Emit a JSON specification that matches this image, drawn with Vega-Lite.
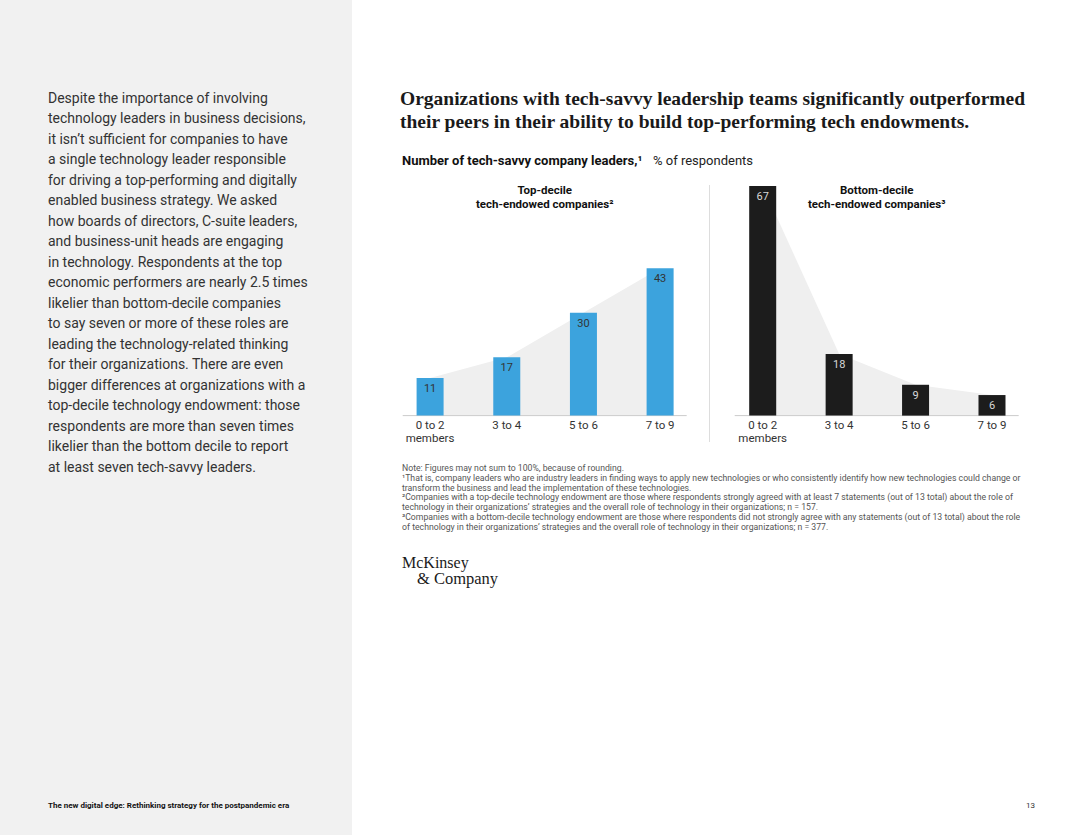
{
  "$schema": "https://vega.github.io/schema/vega-lite/v6.json",
  "width": 1080,
  "height": 835,
  "autosize": {"type": "fit", "contains": "padding"},
  "padding": 0,
  "background": "white",
  "config": {"view": {"stroke": null}, "font": "Roboto"},
  "data": {"values": [
    {"kind": "panel", "t": ""},
    {"kind": "para", "line": 0, "t": "Despite the importance of involving"},
    {"kind": "para", "line": 1, "t": "technology leaders in business decisions,"},
    {"kind": "para", "line": 2, "t": "it isn’t sufficient for companies to have"},
    {"kind": "para", "line": 3, "t": "a single technology leader responsible"},
    {"kind": "para", "line": 4, "t": "for driving a top-performing and digitally"},
    {"kind": "para", "line": 5, "t": "enabled business strategy. We asked"},
    {"kind": "para", "line": 6, "t": "how boards of directors, C-suite leaders,"},
    {"kind": "para", "line": 7, "t": "and business-unit heads are engaging"},
    {"kind": "para", "line": 8, "t": "in technology. Respondents at the top"},
    {"kind": "para", "line": 9, "t": "economic performers are nearly 2.5 times"},
    {"kind": "para", "line": 10, "t": "likelier than bottom-decile companies"},
    {"kind": "para", "line": 11, "t": "to say seven or more of these roles are"},
    {"kind": "para", "line": 12, "t": "leading the technology-related thinking"},
    {"kind": "para", "line": 13, "t": "for their organizations. There are even"},
    {"kind": "para", "line": 14, "t": "bigger differences at organizations with a"},
    {"kind": "para", "line": 15, "t": "top-decile technology endowment: those"},
    {"kind": "para", "line": 16, "t": "respondents are more than seven times"},
    {"kind": "para", "line": 17, "t": "likelier than the bottom decile to report"},
    {"kind": "para", "line": 18, "t": "at least seven tech-savvy leaders."},
    {"kind": "footer", "t": "The new digital edge: Rethinking strategy for the postpandemic era"},
    {"kind": "title", "line": 0, "t": "Organizations with tech-savvy leadership teams significantly outperformed"},
    {"kind": "title", "line": 1, "t": "their peers in their ability to build top-performing tech endowments."},
    {"kind": "sub1", "t": "Number of tech-savvy company leaders,¹"},
    {"kind": "sub2", "t": "% of respondents"},
    {"kind": "ct1", "line": 0, "t": "Top-decile"},
    {"kind": "ct1", "line": 1, "t": "tech-endowed companies²"},
    {"kind": "ct2", "line": 0, "t": "Bottom-decile"},
    {"kind": "ct2", "line": 1, "t": "tech-endowed companies³"},
    {"kind": "sep", "t": ""},
    {"kind": "base1", "t": ""},
    {"kind": "base2", "t": ""},
    {"kind": "top", "cat": "0 to 2", "value": 11},
    {"kind": "top", "cat": "3 to 4", "value": 17},
    {"kind": "top", "cat": "5 to 6", "value": 30},
    {"kind": "top", "cat": "7 to 9", "value": 43},
    {"kind": "bottom", "cat": "0 to 2", "value": 67},
    {"kind": "bottom", "cat": "3 to 4", "value": 18},
    {"kind": "bottom", "cat": "5 to 6", "value": 9},
    {"kind": "bottom", "cat": "7 to 9", "value": 6},
    {"kind": "mem1", "t": "members"},
    {"kind": "mem2", "t": "members"},
    {"kind": "notes", "line": 0, "t": "Note: Figures may not sum to 100%, because of rounding."},
    {"kind": "notes", "line": 1, "t": "¹That is, company leaders who are industry leaders in finding ways to apply new technologies or who consistently identify how new technologies could change or"},
    {"kind": "notes", "line": 2, "t": " transform the business and lead the implementation of these technologies."},
    {"kind": "notes", "line": 3, "t": "²Companies with a top-decile technology endowment are those where respondents strongly agreed with at least 7 statements (out of 13 total) about the role of"},
    {"kind": "notes", "line": 4, "t": " technology in their organizations’ strategies and the overall role of technology in their organizations; n = 157."},
    {"kind": "notes", "line": 5, "t": "³Companies with a bottom-decile technology endowment are those where respondents did not strongly agree with any statements (out of 13 total) about the role"},
    {"kind": "notes", "line": 6, "t": " of technology in their organizations’ strategies and the overall role of technology in their organizations; n = 377."},
    {"kind": "logo1", "t": "McKinsey"},
    {"kind": "logo2", "t": "& Company"},
    {"kind": "page", "t": "13"}
  ]},
  "resolve": {"scale": {"x": "independent", "y": "independent"}},
  "layer": [
    {
      "transform": [{"filter": "datum.kind === 'panel'"}],
      "mark": {"type": "rect", "color": "#f1f1f1"},
      "encoding": {"x": {"value": 0}, "x2": {"value": 352}, "y": {"value": 0}, "y2": {"value": 835}}
    },
    {
      "transform": [{"filter": "datum.kind === 'para'"}],
      "mark": {"type": "text", "align": "left", "baseline": "middle", "fontSize": 14, "color": "#333333"},
      "encoding": {
        "x": {"value": 48},
        "y": {"field": "line", "type": "quantitative", "scale": {"domain": [-4.833, 35.933], "reverse": true, "nice": false, "zero": false}, "axis": null},
        "text": {"field": "t", "type": "nominal"}
      }
    },
    {
      "transform": [{"filter": "datum.kind === 'footer'"}],
      "mark": {"type": "text", "align": "left", "baseline": "middle", "fontSize": 8, "fontWeight": "bold", "color": "#111111"},
      "encoding": {"x": {"value": 48}, "y": {"value": 806}, "text": {"field": "t", "type": "nominal"}}
    },
    {
      "transform": [{"filter": "datum.kind === 'title'"}],
      "mark": {"type": "text", "align": "left", "baseline": "middle", "font": "Liberation Serif", "fontWeight": "bold", "fontSize": 19.5, "color": "#1a1a1a"},
      "encoding": {
        "x": {"value": 400},
        "y": {"field": "line", "type": "quantitative", "scale": {"domain": [-4.304, 32.0], "reverse": true, "nice": false, "zero": false}, "axis": null},
        "text": {"field": "t", "type": "nominal"}
      }
    },
    {
      "transform": [{"filter": "datum.kind === 'sub1'"}],
      "mark": {"type": "text", "align": "left", "baseline": "middle", "fontWeight": "bold", "fontSize": 13, "color": "#111111"},
      "encoding": {"x": {"value": 402}, "y": {"value": 161}, "text": {"field": "t", "type": "nominal"}}
    },
    {
      "transform": [{"filter": "datum.kind === 'sub2'"}],
      "mark": {"type": "text", "align": "left", "baseline": "middle", "fontSize": 13, "color": "#222222"},
      "encoding": {"x": {"value": 653}, "y": {"value": 161}, "text": {"field": "t", "type": "nominal"}}
    },
    {
      "transform": [{"filter": "datum.kind === 'ct1'"}],
      "mark": {"type": "text", "align": "center", "baseline": "middle", "fontWeight": "bold", "fontSize": 11.5, "color": "#111111"},
      "encoding": {
        "x": {"value": 544.7},
        "y": {"field": "line", "type": "quantitative", "scale": {"domain": [-13.643, 46.0], "reverse": true, "nice": false, "zero": false}, "axis": null},
        "text": {"field": "t", "type": "nominal"}
      }
    },
    {
      "transform": [{"filter": "datum.kind === 'ct2'"}],
      "mark": {"type": "text", "align": "center", "baseline": "middle", "fontWeight": "bold", "fontSize": 11.5, "color": "#111111"},
      "encoding": {
        "x": {"value": 876.7},
        "y": {"field": "line", "type": "quantitative", "scale": {"domain": [-13.643, 46.0], "reverse": true, "nice": false, "zero": false}, "axis": null},
        "text": {"field": "t", "type": "nominal"}
      }
    },
    {
      "transform": [{"filter": "datum.kind === 'sep'"}],
      "mark": {"type": "rule", "color": "#dddddd", "strokeWidth": 1},
      "encoding": {"x": {"value": 709.5}, "y": {"value": 185}, "y2": {"value": 442}}
    },
    {
      "transform": [{"filter": "datum.kind === 'top'"}],
      "mark": {"type": "area", "color": "#efefef"},
      "encoding": {
        "x": {"field": "cat", "type": "nominal", "scale": {"type": "band", "domain": ["p1", "p2", "p3", "p4", "p5", "0 to 2", "3 to 4", "5 to 6", "7 to 9", "p6", "p7", "p8", "p9", "p10"], "paddingInner": 0.6478, "paddingOuter": 0.367, "align": 0.5907}, "axis": null},
        "y": {"field": "value", "type": "quantitative", "scale": {"domain": [-122.38, 121.28], "nice": false, "zero": true}, "axis": null}
      }
    },
    {
      "transform": [{"filter": "datum.kind === 'bottom'"}],
      "mark": {"type": "area", "color": "#efefef"},
      "encoding": {
        "x": {"field": "cat", "type": "nominal", "scale": {"type": "band", "domain": ["q1", "q2", "q3", "q4", "q5", "q6", "q7", "q8", "q9", "0 to 2", "3 to 4", "5 to 6", "7 to 9"], "paddingInner": 0.6467, "paddingOuter": 0.8886, "align": 0.4515}, "axis": null},
        "y": {"field": "value", "type": "quantitative", "scale": {"domain": [-122.38, 121.28], "nice": false, "zero": true}, "axis": null}
      }
    },
    {
      "transform": [{"filter": "datum.kind === 'base1'"}],
      "mark": {"type": "rule", "color": "#cccccc", "strokeWidth": 1},
      "encoding": {"x": {"value": 402.7}, "x2": {"value": 686.7}, "y": {"value": 415.6}}
    },
    {
      "transform": [{"filter": "datum.kind === 'base2'"}],
      "mark": {"type": "rule", "color": "#cccccc", "strokeWidth": 1},
      "encoding": {"x": {"value": 734.7}, "x2": {"value": 1018.7}, "y": {"value": 415.6}}
    },
    {
      "transform": [{"filter": "datum.kind === 'top'"}],
      "mark": {"type": "bar", "color": "#3ca3dd"},
      "encoding": {
        "x": {"field": "cat", "type": "nominal",
          "scale": {"type": "band", "domain": ["p1", "p2", "p3", "p4", "p5", "0 to 2", "3 to 4", "5 to 6", "7 to 9", "p6", "p7", "p8", "p9", "p10"], "paddingInner": 0.6478, "paddingOuter": 0.367, "align": 0.5907},
          "axis": {"title": null, "orient": "bottom", "offset": -419.4, "values": ["0 to 2", "3 to 4", "5 to 6", "7 to 9"], "domain": false, "ticks": false, "grid": false, "labelPadding": 4, "labelFontSize": 11.5, "labelColor": "#333333", "labelAngle": 0}},
        "y": {"field": "value", "type": "quantitative", "scale": {"domain": [-122.38, 121.28], "nice": false, "zero": true}, "axis": null}
      }
    },
    {
      "transform": [{"filter": "datum.kind === 'bottom'"}],
      "mark": {"type": "bar", "color": "#1c1c1c"},
      "encoding": {
        "x": {"field": "cat", "type": "nominal",
          "scale": {"type": "band", "domain": ["q1", "q2", "q3", "q4", "q5", "q6", "q7", "q8", "q9", "0 to 2", "3 to 4", "5 to 6", "7 to 9"], "paddingInner": 0.6467, "paddingOuter": 0.8886, "align": 0.4515},
          "axis": {"title": null, "orient": "bottom", "offset": -419.4, "values": ["0 to 2", "3 to 4", "5 to 6", "7 to 9"], "domain": false, "ticks": false, "grid": false, "labelPadding": 4, "labelFontSize": 11.5, "labelColor": "#333333", "labelAngle": 0}},
        "y": {"field": "value", "type": "quantitative", "scale": {"domain": [-122.38, 121.28], "nice": false, "zero": true}, "axis": null}
      }
    },
    {
      "transform": [{"filter": "datum.kind === 'top'"}],
      "mark": {"type": "text", "dy": 11, "fontSize": 11, "color": "#333333", "baseline": "middle"},
      "encoding": {
        "x": {"field": "cat", "type": "nominal", "scale": {"type": "band", "domain": ["p1", "p2", "p3", "p4", "p5", "0 to 2", "3 to 4", "5 to 6", "7 to 9", "p6", "p7", "p8", "p9", "p10"], "paddingInner": 0.6478, "paddingOuter": 0.367, "align": 0.5907}, "axis": null},
        "y": {"field": "value", "type": "quantitative", "scale": {"domain": [-122.38, 121.28], "nice": false, "zero": true}, "axis": null},
        "text": {"field": "value", "type": "quantitative"}
      }
    },
    {
      "transform": [{"filter": "datum.kind === 'bottom'"}],
      "mark": {"type": "text", "dy": 11, "fontSize": 11, "color": "#d8d8d8", "baseline": "middle"},
      "encoding": {
        "x": {"field": "cat", "type": "nominal", "scale": {"type": "band", "domain": ["q1", "q2", "q3", "q4", "q5", "q6", "q7", "q8", "q9", "0 to 2", "3 to 4", "5 to 6", "7 to 9"], "paddingInner": 0.6467, "paddingOuter": 0.8886, "align": 0.4515}, "axis": null},
        "y": {"field": "value", "type": "quantitative", "scale": {"domain": [-122.38, 121.28], "nice": false, "zero": true}, "axis": null},
        "text": {"field": "value", "type": "quantitative"}
      }
    },
    {
      "transform": [{"filter": "datum.kind === 'mem1'"}],
      "mark": {"type": "text", "align": "center", "baseline": "middle", "fontSize": 11.5, "color": "#333333"},
      "encoding": {"x": {"value": 430}, "y": {"value": 439}, "text": {"field": "t", "type": "nominal"}}
    },
    {
      "transform": [{"filter": "datum.kind === 'mem2'"}],
      "mark": {"type": "text", "align": "center", "baseline": "middle", "fontSize": 11.5, "color": "#333333"},
      "encoding": {"x": {"value": 762.7}, "y": {"value": 439}, "text": {"field": "t", "type": "nominal"}}
    },
    {
      "transform": [{"filter": "datum.kind === 'notes'"}],
      "mark": {"type": "text", "align": "left", "baseline": "middle", "fontSize": 8.7, "color": "#555555"},
      "encoding": {
        "x": {"value": 402},
        "y": {"field": "line", "type": "quantitative", "scale": {"domain": [-47.085, 36.978], "reverse": true, "nice": false, "zero": false}, "axis": null},
        "text": {"field": "t", "type": "nominal"}
      }
    },
    {
      "transform": [{"filter": "datum.kind === 'logo1'"}],
      "mark": {"type": "text", "align": "left", "baseline": "middle", "font": "Liberation Serif", "fontSize": 16, "color": "#1a1a1a"},
      "encoding": {"x": {"value": 402}, "y": {"value": 563}, "text": {"field": "t", "type": "nominal"}}
    },
    {
      "transform": [{"filter": "datum.kind === 'logo2'"}],
      "mark": {"type": "text", "align": "left", "baseline": "middle", "font": "Liberation Serif", "fontSize": 16.5, "color": "#1a1a1a"},
      "encoding": {"x": {"value": 417}, "y": {"value": 579}, "text": {"field": "t", "type": "nominal"}}
    },
    {
      "transform": [{"filter": "datum.kind === 'page'"}],
      "mark": {"type": "text", "align": "left", "baseline": "middle", "fontSize": 8, "color": "#333333"},
      "encoding": {"x": {"value": 1026}, "y": {"value": 806}, "text": {"field": "t", "type": "nominal"}}
    }
  ]
}
